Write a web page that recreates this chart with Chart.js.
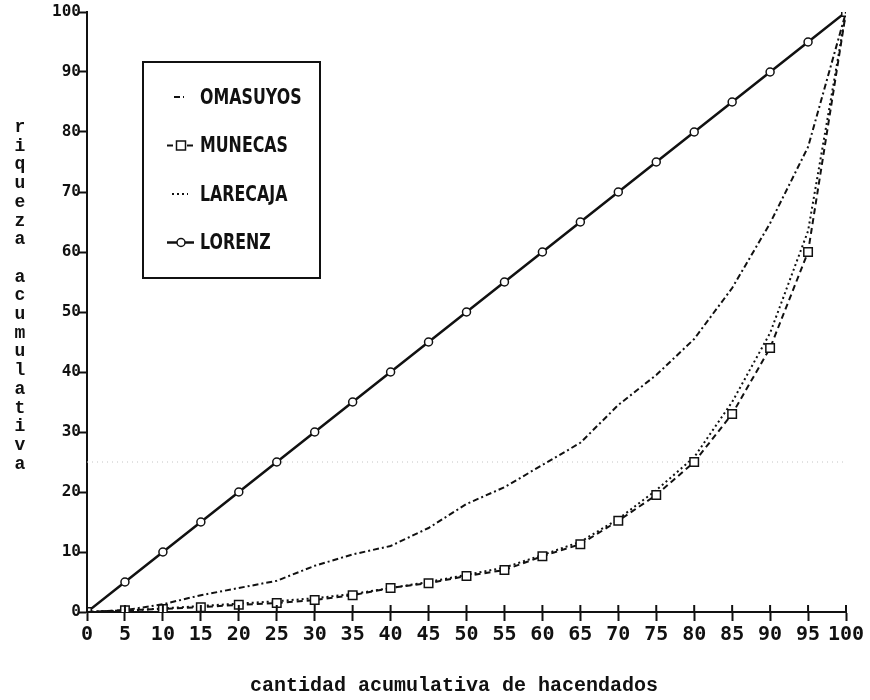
<!DOCTYPE html>
<html>
<head>
<meta charset="utf-8">
<script src="https://cdn.jsdelivr.net/npm/chart.js@4/dist/chart.umd.min.js"></script>
<style>
  body { margin: 0; background: #fff; }
  #wrap { position: relative; width: 870px; height: 700px; }
  #ytitle { position: absolute; left: 11px; top: 118px; width: 18px; text-align: center;
    font: bold 18px "Liberation Mono", "DejaVu Sans Mono", monospace; line-height: 18.7px; color: #111; }
  #xtitle { position: absolute; left: 250px; top: 676px; width: 400px; text-align: center; white-space: nowrap;
    font: bold 20px "Liberation Mono", "DejaVu Sans Mono", monospace; line-height: 20px; color: #111; }
</style>
</head>
<body>
<div id="wrap">
  <canvas id="myChart" width="870" height="700"></canvas>
  <div id="ytitle"></div>
  <div id="xtitle">cantidad acumulativa de hacendados</div>
</div>

<script>
  // cantidad acumulativa (x) and riqueza acumulativa (y)
  var xValues  = [0, 5, 10, 15, 20, 25, 30, 35, 40, 45, 50, 55, 60, 65, 70, 75, 80, 85, 90, 95, 100];
  var omasuyos = [0, 0.3, 1.3, 2.8, 4, 5.2, 7.7, 9.6, 11, 14, 18, 20.8, 24.5, 28.2, 34.5, 39.5, 45.5, 54, 64.8, 77.5, 100];
  var munecas  = [0, 0.3, 0.5, 0.8, 1.2, 1.5, 2, 2.8, 4, 4.8, 6, 7, 9.3, 11.3, 15.2, 19.5, 25, 33, 44, 60, 100];
  var larecaja = [0, 0.2, 0.6, 1, 1.4, 1.8, 2.3, 3, 4, 5, 6.2, 7.4, 9.5, 11.7, 15.5, 20.3, 25.8, 35, 46.5, 63.5, 100];
  var lorenz   = [0, 5, 10, 15, 20, 25, 30, 35, 40, 45, 50, 55, 60, 65, 70, 75, 80, 85, 90, 95, 100];
  var guideX = [0, 100];
  var guideY = [25, 25];

  var yTitle = "riqueza acumulativa";
  document.getElementById("ytitle").innerHTML = yTitle.split("").map(function (c) {
    return c == " " ? "&nbsp;" : c;
  }).join("<br>");

  function pts(xs, ys) {
    return xs.map(function (x, i) { return { x: x, y: ys[i] }; });
  }

  var INK = "#111";

  // legend box drawn inside the plot, like the original
  var boxLegend = {
    id: "boxLegend",
    afterDraw: function (chart) {
      var ctx = chart.ctx;
      ctx.save();
      ctx.strokeStyle = INK;
      ctx.lineWidth = 2;
      ctx.strokeRect(143, 62, 177, 216);
      for (var i = 0; i < 4; i++) {
        var ds = chart.data.datasets[i];
        var y = 97 + i * 48.5;
        ctx.strokeStyle = INK;
        ctx.lineWidth = ds.borderWidth;
        ctx.setLineDash(ds.borderDash || []);
        ctx.beginPath();
        if (i == 0) { ctx.moveTo(174, y); ctx.lineTo(184, y); }
        else if (i == 2) { ctx.moveTo(172, y); ctx.lineTo(188, y); }
        else { ctx.moveTo(167, y); ctx.lineTo(194, y); }
        ctx.stroke();
        ctx.setLineDash([]);
        if (ds.pointRadius > 0) {
          ctx.fillStyle = "#fff";
          ctx.lineWidth = 1.5;
          ctx.beginPath();
          if (ds.pointStyle == "rect") ctx.rect(176.5, y - 4.5, 9, 9);
          else ctx.arc(181, y, 4, 0, Math.PI * 2);
          ctx.fill();
          ctx.stroke();
        }
        // narrow bold lettering: squeeze the text horizontally
        ctx.save();
        ctx.translate(200, y + 1);
        ctx.scale(0.72, 1);
        ctx.fillStyle = INK;
        ctx.font = "bold 22px 'DejaVu Sans', sans-serif";
        ctx.textBaseline = "middle";
        ctx.fillText(ds.label, 0, 0);
        ctx.restore();
      }
      ctx.restore();
    }
  };

  // small tick marks that cross the x axis upwards
  var upTicks = {
    id: "upTicks",
    afterDraw: function (chart) {
      var ctx = chart.ctx, sx = chart.scales.x, base = chart.chartArea.bottom;
      ctx.save();
      ctx.strokeStyle = INK;
      ctx.lineWidth = 2;
      sx.ticks.forEach(function (t) {
        var px = sx.getPixelForValue(t.value);
        ctx.beginPath();
        ctx.moveTo(px, base);
        ctx.lineTo(px, base - 7);
        ctx.stroke();
      });
      ctx.restore();
    }
  };

  var config = {
    type: "line",
    data: {
      datasets: [
        { label: "OMASUYOS", data: pts(xValues, omasuyos), borderColor: INK, borderWidth: 2,
          borderDash: [6, 3, 2, 3], pointRadius: 0, fill: false },
        { label: "MUNECAS", data: pts(xValues, munecas), borderColor: INK, borderWidth: 2,
          borderDash: [6, 4], pointStyle: "rect", pointRadius: 6, pointBorderWidth: 1.5,
          pointBackgroundColor: "#fff", pointBorderColor: INK, fill: false },
        { label: "LARECAJA", data: pts(xValues, larecaja), borderColor: INK, borderWidth: 2,
          borderDash: [2, 3], pointRadius: 0, fill: false },
        { label: "LORENZ", data: pts(xValues, lorenz), borderColor: INK, borderWidth: 2.5,
          pointStyle: "circle", pointRadius: 4, pointBorderWidth: 1.5,
          pointBackgroundColor: "#fff", pointBorderColor: INK, fill: false },
        { label: "", data: pts(guideX, guideY), borderColor: "#c4c4c4", borderWidth: 1,
          borderDash: [1, 4], pointRadius: 0, fill: false }
      ]
    },
    options: {
      responsive: false,
      animation: false,
      layout: { padding: { left: 0, top: 12, right: 24, bottom: 0 } },
      plugins: { legend: { display: false }, tooltip: { enabled: false } },
      scales: {
        x: {
          type: "linear", min: 0, max: 100,
          afterFit: function (s) { s.height = 88; },
          grid: { drawOnChartArea: false, tickLength: 9, tickWidth: 2, tickColor: INK },
          border: { color: INK, width: 2 },
          ticks: { stepSize: 5, padding: 2, color: INK, maxRotation: 0, autoSkip: false,
            font: { family: "'DejaVu Sans Mono', monospace", size: 20, weight: "bold" } }
        },
        y: {
          min: 0, max: 100,
          afterFit: function (s) { s.width = 87; },
          grid: { drawOnChartArea: false, tickLength: 9, tickWidth: 2, tickColor: INK },
          border: { color: INK, width: 2 },
          ticks: { stepSize: 10, padding: -3, color: INK,
            font: { family: "'DejaVu Sans Mono', monospace", size: 16, weight: "bold" } }
        }
      }
    },
    plugins: [boxLegend, upTicks]
  };

  var ctx = document.getElementById("myChart");
  window.lorenzChart = new Chart(ctx, config);
</script>
</body>
</html>
